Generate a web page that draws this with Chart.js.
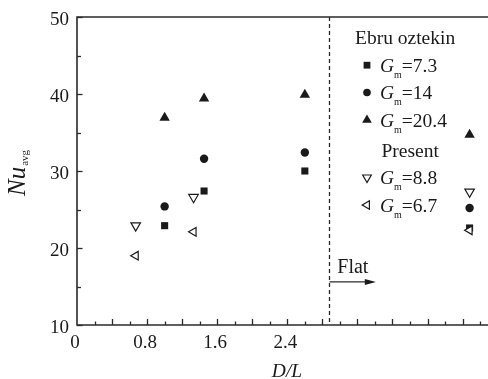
<!DOCTYPE html>
<html><head><meta charset="utf-8">
<script src="https://cdn.jsdelivr.net/npm/chart.js@4/dist/chart.umd.min.js"></script>
<style>html,body{margin:0;padding:0;background:#fff;}canvas{display:block;}</style>
</head><body>
<canvas id="c" width="488" height="379"></canvas>
<script>
// ---- data ----
const xTickValues = [0, 0.8, 1.6, 2.4];
const xTickLabels = ['0', '0.8', '1.6', '2.4'];
const yTickValues = [10, 20, 30, 40, 50];
const yTickLabels = ['10', '20', '30', '40', '50'];
const xMin = 0, xMax = 4.69, yMin = 10, yMax = 50;
const flatBoundary = 2.88;
const flatArrowEnd = 3.41;
const flatArrowY = 15.6;
const flatLabelX = 2.97;
const flatLabelY = 16.75;
const flatLabel = 'Flat';

const ebruX = [1.0, 1.45, 2.6, 4.48];
const ebruGm73 = [22.9, 27.4, 30.0, 22.6];
const ebruGm14 = [25.4, 31.6, 32.4, 25.2];
const ebruGm204 = [36.9, 39.4, 39.9, 34.7];
const presentX = [0.67, 1.33, 4.48];
const presentGm88 = [22.9, 26.6, 27.3];
const presentGm67 = [19.0, 22.1, 22.3];
const groupLabels = ['Ebru oztekin', 'Present'];
const seriesLabels = ['7.3', '14', '20.4', '8.8', '6.7'];
const xTitle = 'D/L';

const pts = (xs, ys) => xs.map((x, i) => ({x: x, y: ys[i]}));
const INK = '#1a1a1a';
const SERIF = '"Liberation Serif","DejaVu Serif",serif';

function drawMarker(ctx, kind, x, y, r) {
  ctx.save();
  ctx.fillStyle = INK; ctx.strokeStyle = INK; ctx.lineWidth = 1.2;
  ctx.beginPath();
  if (kind === 'rect') {
    ctx.rect(x - r, y - r, 2 * r, 2 * r); ctx.fill();
  } else if (kind === 'circle') {
    ctx.arc(x, y, r, 0, Math.PI * 2); ctx.fill();
  } else {
    const rot = kind === 'up' ? 0 : kind === 'down' ? Math.PI : -Math.PI / 2;
    for (let k = 0; k < 3; k++) {
      const a = rot + k * 2 * Math.PI / 3;
      const px = x + Math.sin(a) * r, py = y - Math.cos(a) * r;
      if (k === 0) ctx.moveTo(px, py); else ctx.lineTo(px, py);
    }
    ctx.closePath();
    if (kind === 'up') ctx.fill(); else { ctx.fillStyle = '#fff'; ctx.fill(); ctx.stroke(); }
  }
  ctx.restore();
}

const framePlugin = {
  id: 'frame',
  beforeDatasetsDraw(chart) {
    const {ctx, chartArea: a, scales: {x, y}} = chart;
    ctx.save();
    ctx.strokeStyle = '#2a2a2a';
    ctx.lineWidth = 1.6;
    ctx.beginPath();
    ctx.moveTo(a.right, a.top); ctx.lineTo(a.left, a.top); ctx.lineTo(a.left, a.bottom); ctx.lineTo(a.right, a.bottom);
    ctx.stroke();
    ctx.lineWidth = 1.3;
    for (let v = yMin; v <= yMax; v += 5) {
      const py = Math.round(y.getPixelForValue(v)) + 0.5;
      const len = (v % 10 === 0) ? 5.5 : 4;
      ctx.beginPath(); ctx.moveTo(a.left, py); ctx.lineTo(a.left + len, py); ctx.stroke();
    }
    for (let i = 1; i * 0.2 <= xMax; i++) {
      const v = i * 0.2;
      const px = Math.round(x.getPixelForValue(v)) + 0.5;
      const len = (i % 2 === 0) ? 6 : 3.5;
      ctx.beginPath(); ctx.moveTo(px, a.bottom); ctx.lineTo(px, a.bottom - len); ctx.stroke();
    }
    const bx = Math.round(x.getPixelForValue(flatBoundary)) + 0.5;
    ctx.lineWidth = 1.3;
    ctx.setLineDash([4, 3]);
    ctx.beginPath(); ctx.moveTo(bx, a.top); ctx.lineTo(bx, a.bottom); ctx.stroke();
    ctx.setLineDash([]);
    const ay = y.getPixelForValue(flatArrowY);
    const ax2 = x.getPixelForValue(flatArrowEnd);
    ctx.lineWidth = 1.3;
    ctx.beginPath(); ctx.moveTo(bx, ay); ctx.lineTo(ax2 - 6, ay); ctx.stroke();
    ctx.fillStyle = INK;
    ctx.beginPath(); ctx.moveTo(ax2, ay); ctx.lineTo(ax2 - 11, ay - 3); ctx.lineTo(ax2 - 11, ay + 3); ctx.closePath(); ctx.fill();
    ctx.restore();
  },
  afterDatasetsDraw(chart) {
    const {ctx, chartArea: a, scales: {x, y}} = chart;
    ctx.save();
    ctx.fillStyle = INK;
    ctx.font = '19px ' + SERIF;
    ctx.textBaseline = 'alphabetic';
    ctx.textAlign = 'right';
    yTickValues.forEach((v, i) => ctx.fillText(yTickLabels[i], a.left - 8, y.getPixelForValue(v) + 7.5));
    ctx.textAlign = 'center';
    xTickValues.forEach((v, i) => ctx.fillText(xTickLabels[i], x.getPixelForValue(v) - 2, a.bottom + 23));
    ctx.font = 'italic 19.5px ' + SERIF;
    ctx.fillText(xTitle, 287, 377);
    ctx.textAlign = 'left';
    ctx.font = '20px ' + SERIF;
    ctx.fillText(flatLabel, x.getPixelForValue(flatLabelX), y.getPixelForValue(flatLabelY));
    ctx.save();
    ctx.translate(25, 196);
    ctx.rotate(-Math.PI / 2);
    ctx.font = 'italic 25px ' + SERIF;
    ctx.fillText('Nu', 0, 0);
    const w = ctx.measureText('Nu').width;
    ctx.font = '11px ' + SERIF;
    ctx.fillText('avg', w + 1, 3);
    ctx.restore();
    ctx.font = '19.5px ' + SERIF;
    ctx.fillText(groupLabels[0], 355, 43.5);
    ctx.fillText(groupLabels[1], 381.5, 157);
    const rows = [
      {kind: 'rect', r: 3.4, base: 71.7, label: seriesLabels[0]},
      {kind: 'circle', r: 3.8, base: 99, label: seriesLabels[1]},
      {kind: 'up', r: 5.6, base: 126.5, label: seriesLabels[2]},
      {kind: 'down', r: 5, base: 184, label: seriesLabels[3]},
      {kind: 'left', r: 4.8, base: 211.5, label: seriesLabels[4]}
    ];
    rows.forEach(rw => {
      drawMarker(ctx, rw.kind, 367, rw.base - 6.5, rw.r);
      ctx.fillStyle = INK;
      ctx.font = 'italic 19.5px ' + SERIF;
      ctx.fillText('G', 380, rw.base);
      const gw = ctx.measureText('G').width;
      ctx.font = '10px ' + SERIF;
      ctx.fillText('m', 380 + gw, rw.base + 6);
      const mw = ctx.measureText('m').width;
      ctx.font = '19.5px ' + SERIF;
      ctx.fillText('=' + rw.label, 380 + gw + mw, rw.base);
    });
    ctx.restore();
  }
};

const openStyle = {backgroundColor: '#fff', borderColor: INK, borderWidth: 1.2};
const fillStyle = {backgroundColor: INK, borderColor: INK, borderWidth: 0};

new Chart(document.getElementById('c'), {
  type: 'scatter',
  data: {
    datasets: [
      Object.assign({label: 'Present Gm=6.7', data: pts(presentX, presentGm67), pointStyle: 'triangle', rotation: 270, pointRadius: 5}, openStyle),
      Object.assign({label: 'Present Gm=8.8', data: pts(presentX, presentGm88), pointStyle: 'triangle', rotation: 180, pointRadius: 5.5}, openStyle),
      Object.assign({label: 'Ebru Gm=20.4', data: pts(ebruX, ebruGm204), pointStyle: 'triangle', pointRadius: 6}, fillStyle),
      Object.assign({label: 'Ebru Gm=14', data: pts(ebruX, ebruGm14), pointStyle: 'circle', pointRadius: 4.2}, fillStyle),
      Object.assign({label: 'Ebru Gm=7.3', data: pts(ebruX, ebruGm73), pointStyle: 'rect', pointRadius: 5}, fillStyle)
    ]
  },
  options: {
    responsive: false,
    animation: false,
    devicePixelRatio: 1,
    layout: {autoPadding: false, padding: {left: 77, right: 0, top: 17, bottom: 54}},
    scales: {
      x: {type: 'linear', min: xMin, max: xMax, display: false},
      y: {type: 'linear', min: yMin, max: yMax, display: false}
    },
    plugins: {legend: {display: false}, tooltip: {enabled: false}},
    elements: {point: {hoverRadius: 0}}
  },
  plugins: [framePlugin]
});
</script>
</body></html>
